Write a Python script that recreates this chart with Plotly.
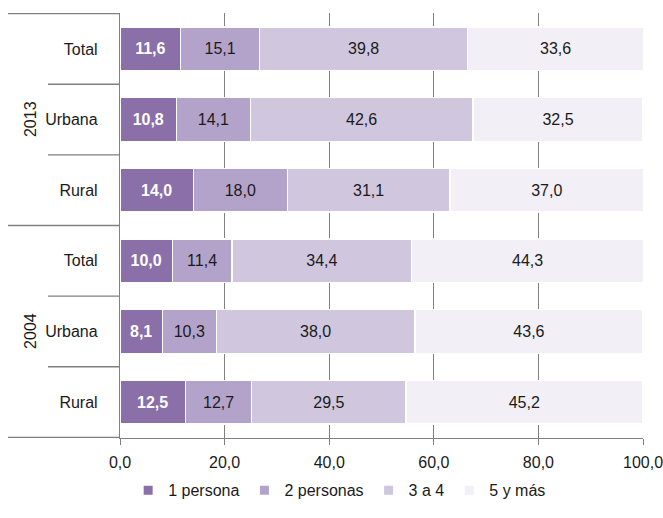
import plotly.graph_objects as go

years = ["2013", "2004"]
areas = ["Total", "Urbana", "Rural"]
series_names = ["1 persona", "2 personas", "3 a 4", "5 y más"]
# rows: 2013 Total, 2013 Urbana, 2013 Rural, 2004 Total, 2004 Urbana, 2004 Rural
uno = [11.6, 10.8, 14.0, 10.0, 8.1, 12.5]
dos = [15.1, 14.1, 18.0, 11.4, 10.3, 12.7]
tres_cuatro = [39.8, 42.6, 31.1, 34.4, 38.0, 29.5]
cinco_mas = [33.6, 32.5, 37.0, 44.3, 43.6, 45.2]
x_ticks = [0, 20, 40, 60, 80, 100]

colors = ["#8a6fa9", "#b3a3ca", "#d0c7df", "#f2f0f6"]
text_colors = ["white", "#1a1a1a", "#1a1a1a", "#1a1a1a"]
FONT = "Liberation Sans, Arial, sans-serif"
FS = 16

row_ids = [f"{y} {a}" for y in years for a in areas]
row_labels = [a for y in years for a in areas]

fig = go.Figure()
for name, vals, col, tc in zip(series_names, [uno, dos, tres_cuatro, cinco_mas], colors, text_colors):
    fig.add_trace(go.Bar(
        y=row_ids, x=vals, name=name, orientation="h", showlegend=False,
        marker=dict(color=col, line=dict(color="white", width=1.2)),
        texttemplate="<b>%{x:.1f}</b>" if name == "1 persona" else "%{x:.1f}",
        textposition="inside", insidetextanchor="middle",
        textfont=dict(color=tc, size=FS, family=FONT),
        constraintext="none",
    ))
# legend entries with small square markers
for name, col in zip(series_names, colors):
    fig.add_trace(go.Scatter(
        x=[None], y=[None], mode="markers", name=name,
        marker=dict(symbol="square", size=9, color=col),
    ))

shapes = []
n = len(row_ids)
l_px, plot_w = 120, 523
def px2paper(px):
    return (px - l_px) / plot_w
# separators in the label area
for i in range(n + 1):
    ypos = i - 0.5
    is_group = (i % len(areas) == 0)
    x0 = px2paper(8) if is_group else px2paper(48)
    shapes.append(dict(type="line", xref="paper", yref="y", x0=x0, x1=0,
                       y0=ypos, y1=ypos, line=dict(color="#808080", width=1.3)))

annotations = []
for gi, yr in enumerate(years):
    annotations.append(dict(text=yr, xref="paper", yref="y", x=px2paper(20),
                            y=gi * len(areas) + 1, textangle=-90, showarrow=False,
                            font=dict(size=FS, color="#1a1a1a", family=FONT)))

fig.update_layout(
    barmode="stack", bargap=0.38,
    width=663, height=518, autosize=False,
    margin=dict(l=120, r=20, t=13, b=80, autoexpand=False),
    paper_bgcolor="white", plot_bgcolor="white",
    separators=",.",
    font=dict(family=FONT, size=FS, color="#1a1a1a"),
    shapes=shapes, annotations=annotations,
    legend=dict(orientation="h", x=0.42, xanchor="center", y=-0.083, yanchor="top",
                font=dict(size=FS, family=FONT), itemwidth=30, traceorder="normal"),
    xaxis=dict(range=[0, 100], tickvals=x_ticks, tickformat=".1f",
               showgrid=True, gridcolor="#808080", gridwidth=1.3,
               showline=True, linecolor="#808080", linewidth=1.3,
               ticks="outside", ticklen=6, tickcolor="#808080", tickwidth=1.3,
               ticklabelstandoff=4, ticklabeloverflow="allow", automargin=False,
               tickfont=dict(size=FS, family=FONT, color="#1a1a1a"), zeroline=False,
               fixedrange=True),
    yaxis=dict(categoryorder="array", categoryarray=row_ids, autorange="reversed",
               tickvals=row_ids, ticktext=row_labels, ticks="",
               showline=True, linecolor="#808080", linewidth=1.3,
               ticklabelstandoff=18, fixedrange=True, automargin=False,
               tickfont=dict(size=FS, family=FONT, color="#1a1a1a")),
)

fig.write_html("out.html", config={"displayModeBar": False},
               post_script="document.body.style.margin='0';document.body.style.overflow='hidden';")
